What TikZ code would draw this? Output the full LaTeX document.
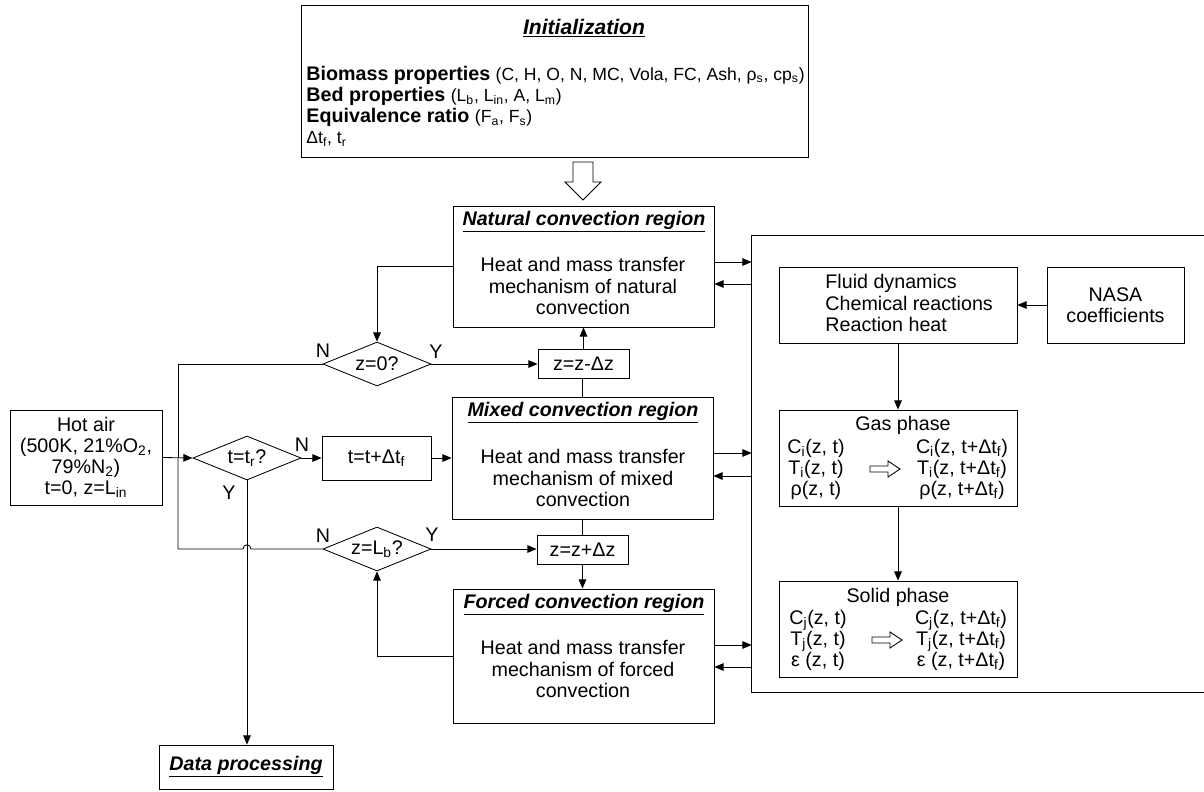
\documentclass[tikz,border=0pt]{standalone}
\usepackage{fontspec}
\setmainfont{Liberation Sans}
\usetikzlibrary{arrows.meta,shapes.geometric,fit}

\newcommand{\headline}[1]{\underline{\textbf{\textit{#1}}}}
\newcommand{\plain}[1]{{\fontsize{12.5}{15}\selectfont #1}}

\begin{document}
\begin{tikzpicture}[x=0.025cm, y=-0.025cm, line width=0.6pt,
  every node/.style={font=\fontsize{14}{15}\selectfont, inner sep=0pt},
  box/.style={draw, rectangle},
  decision/.style={draw, diamond, aspect=2.5, minimum width=2.7cm, minimum height=1.1cm},
  hollow/.style={draw, fill=white, line width=0.6pt},
  >={Triangle[length=2.3mm,width=1.9mm]}]
  \useasboundingbox (0,0) rectangle (1204,791);

  \node[box, fit={(301,5)(808,157)}] (init) {};
  \node[font=\fontsize{15}{16}\selectfont] (init title) at (584,28) {\headline{Initialization}};
  \node[anchor=west, align=left] (init body) at (306,106.5) {\textbf{Biomass properties} \plain{(C, H, O, N, MC, Vola, FC, Ash, ρ\textsubscript{s}, cp\textsubscript{s})}\\
    \textbf{Bed properties} \plain{(L\textsubscript{b}, L\textsubscript{in}, A, L\textsubscript{m})}\\
    \textbf{Equivalence ratio} \plain{(F\textsubscript{a}, F\textsubscript{s})}\\
    \plain{Δt\textsubscript{f}, t\textsubscript{r}}};

  \node[box, fit={(453,206)(714,327)}] (natural) {};
  \node (natural title) at (584,222) {\headline{Natural convection region}};
  \node[align=center] (natural body) at (583,286) {Heat and mass transfer\\mechanism of natural\\convection};

  \node[box, fit={(452,397)(713,519)}] (mixed) {};
  \node (mixed title) at (583,413) {\headline{Mixed convection region}};
  \node[align=center] (mixed body) at (583,478) {Heat and mass transfer\\mechanism of mixed\\convection};

  \node[box, fit={(453,589)(714,723)}] (forced) {};
  \node (forced title) at (584,605) {\headline{Forced convection region}};
  \node[align=center] (forced body) at (583,669) {Heat and mass transfer\\mechanism of forced\\convection};

  \node[box, minimum width=2.275cm, minimum height=0.725cm] (zdec) at (583.5,363.5) {z=z-Δz};
  \node[box, minimum width=2.275cm, minimum height=0.725cm] (zinc) at (582.5,549.5) {z=z+Δz};
  \node[box, minimum width=2.725cm, minimum height=1.1cm] (tinc) at (376.5,458) {t=t+Δt\textsubscript{f}};
  \node[box, minimum width=3.8cm, minimum height=2.375cm, align=center] (air) at (86,457.5) {Hot air\\(500K, 21\%O\textsubscript{2},\\79\%N\textsubscript{2})\\t=0, z=L\textsubscript{in}};
  \node[box, minimum width=4.35cm, minimum height=1.1cm] (data) at (246,767) {\headline{Data processing}};

  \node[decision] (zzero) at (377,364) {z=0?};
  \node[decision] (tdec) at (247,458) {t=t\textsubscript{r}?};
  \node[decision] (zlb) at (377,549) {z=L\textsubscript{b}?};

  \node at (323,351) {N};
  \node at (436,352) {Y};
  \node at (302,445) {N};
  \node at (229,493) {Y};
  \node at (323,536) {N};
  \node at (432,535) {Y};

  \node[fit={(752,236)(1215,692)}] (solver) {};
  \draw (solver.north east) -- (solver.north west) -- (solver.south west) -- (solver.south east);

  \node[box, fit={(779,267)(1017,343)}] (fluid) {};
  \node[anchor=west, align=left] (fluid body) at (825,303) {Fluid dynamics\\Chemical reactions\\Reaction heat};
  \node[box, minimum width=3.425cm, minimum height=1.9cm, align=center] (nasa) at (1115.5,305) {NASA\\coefficients};

  \node[box, fit={(779,410)(1017,506)}] (gas) {};
  \node (gas title) at (903,425) {Gas phase};
  \node[align=center] (gas old) at (816,469) {C\textsubscript{i}(z, t)\\T\textsubscript{i}(z, t)\\ρ(z, t)};
  \node[align=center] (gas new) at (962,469) {C\textsubscript{i}(z, t+Δt\textsubscript{f})\\T\textsubscript{i}(z, t+Δt\textsubscript{f})\\ρ(z, t+Δt\textsubscript{f})};
  \draw[hollow] (870,466) -- (888,466) -- (888,461) -- (900,469) -- (888,477) -- (888,472) -- (870,472) -- cycle;

  \node[box, fit={(779,581)(1017,677)}] (solid) {};
  \node (solid title) at (898,597) {Solid phase};
  \node[align=center] (solid old) at (818,640) {C\textsubscript{j}(z, t)\\T\textsubscript{j}(z, t)\\ε (z, t)};
  \node[align=center] (solid new) at (961,640) {C\textsubscript{j}(z, t+Δt\textsubscript{f})\\T\textsubscript{j}(z, t+Δt\textsubscript{f})\\ε (z, t+Δt\textsubscript{f})};
  \draw[hollow] (872,637) -- (890,637) -- (890,632) -- (902,640) -- (890,648) -- (890,643) -- (872,643) -- cycle;

  \draw[hollow] (573,162) -- (593,162) -- (593,182) -- (601,182) -- (583,200) -- (565,182) -- (573,182) -- cycle;

  \coordinate (join) at (178,458);

  \draw[->] (natural.east |- 0,262) -- (solver.west |- 0,262);
  \draw[->] (solver.west |- 0,284) -- (natural.east |- 0,284);
  \draw[->] (mixed.east |- 0,453) -- (solver.west |- 0,453);
  \draw[->] (solver.west |- 0,476) -- (mixed.east |- 0,476);
  \draw[->] (forced.east |- 0,645) -- (solver.west |- 0,645);
  \draw[->] (solver.west |- 0,667) -- (forced.east |- 0,667);
  \draw[->] (nasa.west) -- (fluid.east);
  \draw[->] (fluid.south) -- (gas.north);
  \draw[->] (gas.south) -- (solid.north);

  \draw[->] (natural.west) -| (zzero.north);
  \draw[->] (zzero.east) -- (zdec.west |- zzero.east);
  \draw[->] (zdec.north) -- (zdec.north |- natural.south);
  \draw (mixed.north) -- (mixed.north |- zdec.south);
  \draw (zzero.west) -| (join);
  \draw[->] (air.east) -- (tdec.west);
  \draw[->] (tdec.east) -- (tinc.west |- tdec.east);
  \draw[->] (tinc.east) -- (mixed.west |- tinc.east);
  \draw[->] (tdec.south) -- (tdec.south |- data.north);
  \draw (zlb.west) -- (251,549) .. controls (251,543.5) and (243,543.5) .. (243,549) -| (join);
  \draw[->] (zlb.east) -- (zinc.west |- zlb.east);
  \draw (mixed.south) -- (mixed.south |- zinc.north);
  \draw[->] (zinc.south) -- (zinc.south |- forced.north);
  \draw[->] (forced.west) -| (zlb.south);
\end{tikzpicture}
\end{document}
